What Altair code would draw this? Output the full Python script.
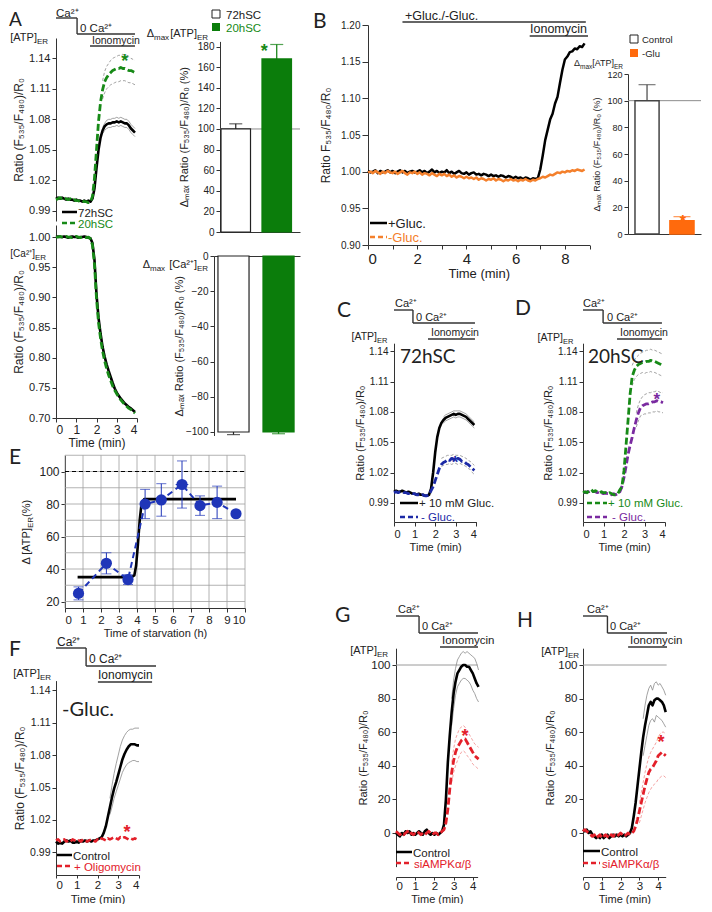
import altair as alt
import pandas as pd

W, H = 696, 896
M = 8
FONT = "Liberation Sans"
BIG = "Lato"
INK = "#222222"
AX = "#333333"
GREEN = "#178a17"
GREEN_BAR = "#0b7d0b"
ORANGE = "#f4802c"
ORANGE_BAR = "#ff6a0d"
BLUE = "#1c2aa6"
EBLUE = "#1f35b8"
PURPLE = "#7a2aa0"
RED = "#e3202a"
SEM = "#8a8a8a"
PINK = "#f08a8a"


def T(n, step=0.1):
    return [round(i * step, 1) for i in range(n)]


# ---------------- data ----------------
T40 = T(40)
T41 = T(41)
T44 = T(44)
T45 = T(45)
T89 = T(89)

# A  [ATP]ER  72hSC / 20hSC
atp72 = [1.002, 1.003, 1.002, 1.003, 1.002, 1.001, 1.002, 1.001, 1.001, 1.000,
         1.001, 1.000, 1.000, 0.999, 1.000, 0.999, 1.000, 0.999, 1.002, 1.012,
         1.032, 1.050, 1.062, 1.069, 1.073, 1.075, 1.076, 1.076, 1.077, 1.077,
         1.078, 1.077, 1.078, 1.077, 1.076, 1.076, 1.074, 1.071, 1.069, 1.067]
atp20 = [1.001, 1.002, 1.003, 1.002, 1.003, 1.002, 1.001, 1.002, 1.000, 1.001,
         1.000, 1.000, 0.999, 1.000, 0.999, 0.999, 0.998, 0.999, 1.004, 1.022,
         1.050, 1.078, 1.097, 1.109, 1.117, 1.121, 1.124, 1.126, 1.128, 1.129,
         1.130, 1.130, 1.131, 1.130, 1.130, 1.129, 1.128, 1.128, 1.127, 1.126]
up72 = [1.072, 1.076, 1.079, 1.080, 1.080, 1.081, 1.081, 1.082, 1.081, 1.082, 1.081, 1.080, 1.080, 1.078, 1.075, 1.073, 1.071]
lo72 = [1.066, 1.069, 1.071, 1.072, 1.072, 1.073, 1.073, 1.074, 1.073, 1.074, 1.073, 1.072, 1.072, 1.070, 1.067, 1.065, 1.063]
up20 = [1.118, 1.127, 1.132, 1.135, 1.138, 1.140, 1.141, 1.142, 1.143, 1.143, 1.144, 1.143, 1.143, 1.142, 1.140, 1.139, 1.138]
lo20 = [1.100, 1.106, 1.110, 1.112, 1.114, 1.115, 1.116, 1.117, 1.117, 1.118, 1.118, 1.118, 1.117, 1.116, 1.116, 1.115, 1.114]

# A  [Ca2+]ER
ca72 = [1.000, 1.001, 1.000, 1.000, 1.001, 1.000, 0.999, 1.000, 1.001, 1.000,
        1.000, 0.999, 1.000, 1.000, 1.001, 1.000, 0.999, 0.998, 0.990, 0.962,
        0.905, 0.866, 0.840, 0.818, 0.802, 0.789, 0.778, 0.768, 0.758, 0.749,
        0.742, 0.737, 0.732, 0.728, 0.724, 0.721, 0.718, 0.716, 0.713, 0.710]
ca20 = [1.000, 1.000, 1.001, 1.000, 1.000, 1.001, 1.000, 1.000, 0.999, 1.000,
        1.001, 1.000, 0.999, 1.000, 1.000, 0.999, 1.000, 0.997, 0.987, 0.955,
        0.898, 0.858, 0.832, 0.811, 0.795, 0.782, 0.771, 0.762, 0.753, 0.746,
        0.740, 0.735, 0.730, 0.726, 0.722, 0.719, 0.716, 0.714, 0.711, 0.708]

# A bars
bar_cats_A = ["72hSC", "20hSC"]
atp_bar = [100, 168]
atp_err = [5, 14]
ca_bar = [-100, -100]
ca_err = [1.5, 1.0]

# B
b_glu = [1.001, 0.999, 1.000, 1.002, 0.998, 1.001, 0.999, 1.000, 1.002, 0.999,
         1.001, 0.998, 1.000, 1.002, 0.999, 1.001, 0.998, 1.000, 1.001, 0.999,
         1.000, 1.002, 0.999, 1.001, 0.998, 1.000, 1.003, 0.999, 1.001, 0.998,
         1.000, 0.999, 1.002, 0.998, 1.000, 0.997, 0.999, 1.001, 0.998, 0.997,
         0.999, 0.996, 0.998, 0.999, 0.996, 0.997, 0.995, 0.997, 0.996, 0.994,
         0.996, 0.994, 0.995, 0.993, 0.995, 0.994, 0.992, 0.994, 0.993, 0.991,
         0.993, 0.991, 0.992, 0.990, 0.992, 0.991, 0.989, 0.991, 0.990, 0.991,
         1.003, 1.022, 1.043, 1.057, 1.071, 1.079, 1.093, 1.102, 1.121, 1.139,
         1.153, 1.157, 1.163, 1.164, 1.168, 1.167, 1.171, 1.170, 1.175]
b_noglu = [0.999, 1.000, 0.998, 1.001, 0.999, 0.997, 1.000, 0.998, 1.001, 0.999,
           0.998, 1.000, 0.997, 0.999, 1.001, 0.998, 0.996, 0.999, 0.998, 1.000,
           0.997, 0.999, 0.996, 0.998, 0.997, 0.995, 0.998, 0.996, 0.994, 0.997,
           0.995, 0.997, 0.994, 0.996, 0.993, 0.995, 0.992, 0.994, 0.993, 0.991,
           0.993, 0.991, 0.992, 0.990, 0.992, 0.989, 0.991, 0.990, 0.988, 0.990,
           0.989, 0.991, 0.988, 0.990, 0.989, 0.987, 0.989, 0.988, 0.990, 0.988,
           0.989, 0.987, 0.989, 0.988, 0.990, 0.988, 0.987, 0.989, 0.988, 0.990,
           0.991, 0.993, 0.992, 0.994, 0.996, 0.995, 0.997, 0.999, 0.998, 1.000,
           0.999, 1.001, 1.000, 1.002, 1.001, 1.003, 1.002, 1.001, 1.003]
bar_cats_B = ["Control", "-Glu"]
b_bar = [100, 10]
b_err = [12, 3]

# C
c_glu = [1.001, 1.002, 1.001, 1.001, 1.002, 1.001, 1.000, 1.001, 1.000, 0.999,
         0.999, 0.998, 0.999, 0.998, 0.998, 0.997, 0.997, 0.998, 1.004, 1.020,
         1.040, 1.055, 1.064, 1.069, 1.072, 1.074, 1.075, 1.076, 1.077, 1.078,
         1.077, 1.078, 1.078, 1.077, 1.076, 1.075, 1.073, 1.071, 1.069, 1.067]
c_up = [1.075, 1.077, 1.078, 1.079, 1.080, 1.081, 1.081, 1.081, 1.081, 1.080, 1.079, 1.078, 1.076, 1.074, 1.072, 1.070]
c_lo = [1.069, 1.071, 1.072, 1.073, 1.074, 1.075, 1.074, 1.075, 1.075, 1.074, 1.073, 1.072, 1.070, 1.068, 1.066, 1.064]
c_noglu = [1.000, 1.001, 1.000, 1.001, 1.001, 1.000, 1.000, 0.999, 1.000, 0.999,
           0.999, 0.998, 0.998, 0.997, 0.998, 0.997, 0.997, 0.998, 1.002, 1.006,
           1.012, 1.018, 1.024, 1.028, 1.030, 1.031, 1.033, 1.032, 1.034, 1.033,
           1.032, 1.034, 1.033, 1.031, 1.031, 1.029, 1.028, 1.026, 1.024, 1.022]
c_nup = [1.034, 1.035, 1.036, 1.037, 1.037, 1.037, 1.038, 1.037, 1.037, 1.037, 1.036, 1.035, 1.034, 1.032, 1.031, 1.029, 1.027]
c_nlo = [1.026, 1.027, 1.028, 1.028, 1.029, 1.028, 1.029, 1.029, 1.028, 1.029, 1.028, 1.027, 1.026, 1.024, 1.023, 1.020, 1.018]

# D
d_glu = [1.000, 1.001, 1.000, 1.002, 1.003, 1.001, 1.002, 1.001, 1.000, 1.001,
         1.000, 1.000, 0.999, 1.000, 0.999, 0.998, 0.998, 0.999, 1.003, 1.006,
         1.022, 1.047, 1.072, 1.098, 1.115, 1.121, 1.125, 1.127, 1.128, 1.129,
         1.129, 1.130, 1.130, 1.131, 1.130, 1.130, 1.129, 1.128, 1.127, 1.126]
d_gup = [1.126, 1.131, 1.134, 1.136, 1.138, 1.139, 1.140, 1.141, 1.141, 1.142, 1.141, 1.141, 1.140, 1.139, 1.138, 1.137]
d_glo = [1.106, 1.112, 1.115, 1.117, 1.118, 1.119, 1.118, 1.119, 1.119, 1.120, 1.119, 1.119, 1.118, 1.117, 1.116, 1.115]
d_noglu = [1.000, 1.000, 1.001, 1.001, 1.002, 1.001, 1.001, 1.000, 1.001, 1.000,
           0.999, 1.000, 0.999, 0.999, 0.998, 0.999, 0.998, 0.999, 1.001, 1.006,
           1.015, 1.026, 1.038, 1.047, 1.055, 1.064, 1.072, 1.079, 1.084, 1.086,
           1.087, 1.088, 1.088, 1.089, 1.090, 1.090, 1.091, 1.090, 1.090, 1.089]
d_nup = [1.079, 1.087, 1.092, 1.095, 1.097, 1.098, 1.099, 1.099, 1.100, 1.100, 1.101, 1.100, 1.099, 1.099]
d_nlo = [1.065, 1.071, 1.076, 1.077, 1.078, 1.078, 1.079, 1.079, 1.080, 1.080, 1.081, 1.080, 1.080, 1.079]

# E
e_h = [0.75, 2.3, 3.5, 4.45, 5.35, 6.5, 7.5, 8.45, 9.5]
e_mean = [25, 43.5, 33.5, 80, 82.5, 92, 79, 81, 74]
e_err = [4, 6.5, 3, 9, 10, 14.5, 6, 10, 0]
e_xerr_h = [6.5]
e_xerr_v = [92]
e_xerr = [0.35]
e_fit_h = [0.7, 3.7, 3.85, 3.95, 4.05, 4.15, 4.25, 4.4, 9.5]
e_fit_v = [35, 35, 36, 42, 55, 70, 80, 83, 83]
e_grid_h = [0, 1, 2, 3, 4, 5, 6, 7, 8, 9, 10]
e_grid_v = [20, 30, 40, 50, 60, 70, 80, 90, 100, 110]

# F
f_ctrl = [1.000, 0.998, 0.999, 0.998, 1.000, 1.001, 1.000, 1.001, 0.999, 0.999,
          1.000, 0.999, 1.001, 1.000, 1.001, 1.000, 1.001, 1.000, 1.001, 1.001,
          1.002, 1.003, 1.004, 1.008, 1.014, 1.023, 1.032, 1.041, 1.049, 1.055,
          1.062, 1.069, 1.076, 1.081, 1.085, 1.088, 1.090, 1.090, 1.090, 1.089,
          1.089]
f_up = [1.040, 1.052, 1.063, 1.072, 1.080, 1.088, 1.094, 1.098, 1.101, 1.103, 1.104, 1.104, 1.105, 1.105, 1.105]
f_lo = [1.025, 1.032, 1.040, 1.046, 1.052, 1.058, 1.064, 1.068, 1.071, 1.073, 1.074, 1.075, 1.075, 1.074, 1.074]
f_oligo = [1.001, 1.002, 1.000, 1.001, 1.002, 1.000, 1.001, 1.000, 1.002, 1.001,
           1.000, 1.001, 1.000, 1.002, 1.001, 1.000, 1.001, 1.002, 1.001, 1.000,
           1.002, 1.001, 1.003, 1.002, 1.001, 1.003, 1.002, 1.003, 1.004, 1.003,
           1.002, 1.004, 1.003, 1.004, 1.003, 1.002, 1.003, 1.002, 1.003, 1.002,
           1.003]

# G
g_ctrl = [0, -1, -2, 0, -1, 1, 0, 1, -1, 0,
          -1, 0, 1, 0, -1, 1, 2, 0, -1, 0,
          -1, 0, -1, 0, 1, 5, 20, 42, 58, 72,
          83, 90, 95, 97, 99, 100, 100, 99, 99, 97,
          95, 92, 89, 87]
g_up = [80, 91, 98, 103, 105, 107, 108, 107, 108, 107, 106, 105, 104, 101, 97]
g_lo = [64, 74, 82, 87, 89, 91, 92, 92, 91, 90, 88, 85, 83, 80, 78]
g_si = [1, 0, -1, 0, -1, 0, 1, -1, 0, -1,
        0, 1, 0, -1, 0, -1, 0, 1, 0, -1,
        0, 0, -1, 0, 1, 2, 6, 14, 26, 36,
        43, 48, 51, 53, 55, 56, 56, 54, 52, 50,
        48, 46, 45, 44]
g_sup = [42, 50, 56, 59, 62, 63, 64, 63, 61, 59, 57, 55, 53, 52, 51]
g_slo = [30, 36, 40, 43, 46, 48, 49, 48, 46, 45, 43, 41, 40, 39, 38]

# H
h_ctrl = [2, 1, 2, 0, 1, -1, -2, -3, -2, -3,
          -1, -3, -2, -1, -3, -2, -1, -2, -1, -2,
          -1, -2, -1, -2, -1, 0, 3, 10, 18, 28,
          38, 48, 57, 64, 70, 76, 78, 76, 79, 80,
          80, 79, 78, 76, 72]
h_up = [68, 76, 82, 86, 88, 85, 89, 90, 88, 89, 87, 85, 82]
h_lo = [46, 52, 58, 64, 67, 68, 66, 70, 69, 68, 67, 65, 63]
h_si = [1, 2, 1, 0, -1, -2, -1, -3, -2, -1,
        -3, -2, -1, -2, -3, -1, -2, -1, -2, -1,
        0, -1, -2, -1, 0, -1, 0, 1, 4, 8,
        13, 18, 23, 28, 32, 36, 38, 39, 41, 43,
        46, 47, 48, 47, 46]
h_sup = [18, 24, 30, 36, 41, 45, 48, 50, 52, 54, 57, 59, 60, 60, 59]
h_slo = [6, 10, 14, 18, 21, 24, 26, 28, 29, 30, 32, 33, 34, 34, 33]

# tick labels
tick_atp = [0.99, 1.02, 1.05, 1.08, 1.11, 1.14]
tick_ca = [0.70, 0.75, 0.80, 0.85, 0.90, 0.95, 1.00]
tick_b = [0.90, 0.95, 1.00, 1.05, 1.10, 1.15, 1.20]
tick_min4 = [0, 1, 2, 3, 4]
tick_min9 = [0, 1, 2, 3, 4, 5, 6, 7, 8, 9]
tick_barA = [0, 20, 40, 60, 80, 100, 120, 140, 160, 180]
tick_barA2 = [-100, -80, -60, -40, -20, 0]
tick_barB = [0, 20, 40, 60, 80, 100, 120]
tick_pct = [0, 20, 40, 60, 80, 100]
tick_E_y = [20, 40, 60, 80, 100]
tick_E_x = [0, 1, 2, 3, 4, 5, 6, 7, 8, 9, 10]

RATIO = "Ratio (F₅₃₅/F₄₈₀)/R₀"
DRATIO = "Δₘₐₓ Ratio (F₅₃₅/F₄₈₀)/R₀ (%)"


# ---------------- helpers ----------------
def sc(domain, p0, p1):
    return alt.Scale(domain=domain, range=[p0 - M, p1 - M], nice=False, zero=False)


def band(domain, p0, p1, pi, po, al):
    return alt.Scale(domain=domain, range=[p0 - M, p1 - M], paddingInner=pi,
                     paddingOuter=po, align=al)


def yax(xpos, values, fmt=None, size=10, title=None, tsize=11, tpad=3, tick=4):
    d = dict(orient="left", offset=-(xpos - M), values=values, labelFontSize=size,
             tickSize=tick, grid=False, labelPadding=2, title=title)
    if fmt:
        d["format"] = fmt
    if title:
        d.update(titleFontSize=tsize, titlePadding=tpad)
    return alt.Axis(**d)


def xax(ypos, values, size=11, title=None, tsize=11, tpad=2, tick=4, lpad=2, **kw):
    d = dict(orient="bottom", offset=(ypos - M) - H, values=values, labelFontSize=size,
             tickSize=tick, grid=False, labelPadding=lpad, title=title, format="d")
    if title:
        d.update(titleFontSize=tsize, titlePadding=tpad)
    d.update(kw)
    return alt.Axis(**d)


def series(t, v, xs, ys, color, width=2.5, dash=None, xaxis=None, yaxis=None):
    df = pd.DataFrame({"t": t, "v": v})
    mk = dict(color=color, strokeWidth=width, strokeJoin="round")
    if dash:
        mk["strokeDash"] = dash
    return alt.Chart(df).mark_line(**mk).encode(
        x=alt.X("t:Q", scale=xs, axis=xaxis),
        y=alt.Y("v:Q", scale=ys, axis=yaxis))


def star(t, v, xs, ys, color, size=18, nominal=False):
    df = pd.DataFrame({"t": [t], "v": [v]})
    xt = "t:N" if nominal else "t:Q"
    return alt.Chart(df).mark_text(text="*", fontSize=size, color=color, font=FONT,
                                   fontWeight="bold", dy=0.57 * size).encode(
        x=alt.X(xt, scale=xs, axis=None), y=alt.Y("v:Q", scale=ys, axis=None))


def txt(s, x, y, size=11, color=INK, font=FONT, align="left", angle=None, weight=None):
    mk = dict(text=s, fontSize=size, color=color, font=font, align=align, baseline="alphabetic")
    if angle is not None:
        mk["angle"] = angle
    if weight:
        mk["fontWeight"] = weight
    return alt.Chart().mark_text(**mk).encode(x=alt.value(x - M), y=alt.value(y - M))


def hline(x0, x1, y, color=INK, width=1.3, dash=None):
    mk = dict(color=color, strokeWidth=width)
    if dash:
        mk["strokeDash"] = dash
    return alt.Chart().mark_rule(**mk).encode(
        x=alt.value(x0 - M), x2=alt.value(x1 - M), y=alt.value(y - M))


def box(x0, x1, y0, y1, fill, stroke=None):
    mk = dict(fill=fill, strokeWidth=1)
    if stroke:
        mk["stroke"] = stroke
    return alt.Chart().mark_rect(**mk).encode(
        x=alt.value(x0 - M), x2=alt.value(x1 - M), y=alt.value(y0 - M), y2=alt.value(y1 - M))


def seg(xs, a, b, ypx, color="#333", width=1.4):
    df = pd.DataFrame({"a": [a], "b": [b]})
    return alt.Chart(df).mark_rule(color=color, strokeWidth=width).encode(
        x=alt.X("a:Q", scale=xs, axis=None), x2="b:Q", y=alt.value(ypx - M))


def vseg(xs, a, y0, y1, color="#333", width=1.4):
    df = pd.DataFrame({"a": [a]})
    return alt.Chart(df).mark_rule(color=color, strokeWidth=width).encode(
        x=alt.X("a:Q", scale=xs, axis=None), y=alt.value(y0 - M), y2=alt.value(y1 - M))


def protocol(xs, t_sw, t_end, t_i0, t_i1, y_top, y_bot, y_ion):
    return [seg(xs, 0, t_sw, y_top), vseg(xs, t_sw, y_top, y_bot),
            seg(xs, t_sw, t_end, y_bot), seg(xs, t_i0, t_i1, y_ion)]


def proto_text(xc, yc, x0, y0, xi, yi, fs=11, fsi=11):
    return [txt("Ca²⁺", xc, yc, fs), txt("0 Ca²⁺", x0, y0, fs), txt("Ionomycin", xi, yi, fsi)]


def bar_set(cats, vals, errs, fills, strokes, xs, ys, xaxis, yaxis, cap=13, sign=1, sw=1.2):
    out = []
    for i, c in enumerate(cats):
        df = pd.DataFrame({"c": [c], "v": [vals[i]], "e": [vals[i] + sign * errs[i]]})
        out.append(alt.Chart(df).mark_bar(fill=fills[i], stroke=strokes[i], strokeWidth=sw).encode(
            x=alt.X("c:N", scale=xs, axis=xaxis if i == 0 else None),
            y=alt.Y("v:Q", scale=ys, axis=yaxis if i == 0 else None),
            y2=alt.datum(0)))
        out.append(alt.Chart(df).mark_rule(color=strokes[i], strokeWidth=1.2).encode(
            x=alt.X("c:N", scale=xs, axis=None), y=alt.Y("v:Q", scale=ys, axis=None), y2="e:Q"))
        out.append(alt.Chart(df).mark_tick(color=strokes[i], size=cap, thickness=1.2).encode(
            x=alt.X("c:N", scale=xs, axis=None), y=alt.Y("e:Q", scale=ys, axis=None)))
    return out


def ref_rule(value, x0, x1, ys, color="#8c8c8c"):
    df = pd.DataFrame({"v": [value]})
    return alt.Chart(df).mark_rule(color=color, strokeWidth=1).encode(
        y=alt.Y("v:Q", scale=ys, axis=None), x=alt.value(x0 - M), x2=alt.value(x1 - M))


def data_rule(t0, t1, value, xs, ys, color="#8c8c8c", width=1, dash=None):
    df = pd.DataFrame({"a": [t0], "b": [t1], "v": [value]})
    mk = dict(color=color, strokeWidth=width)
    if dash:
        mk["strokeDash"] = dash
    return alt.Chart(df).mark_rule(**mk).encode(
        x=alt.X("a:Q", scale=xs, axis=None), x2="b:Q", y=alt.Y("v:Q", scale=ys, axis=None))


units = []
notes = []

# ---------------- Panel A (lines) ----------------
xsA = sc([0, 4], 56, 137)
ysA1 = sc([0.98, 1.16], 221, 38)
ysA2 = sc([0.70, 1.02], 418, 225)
units += [
    series(T40[23:], up72, xsA, ysA1, SEM, 0.8,
           yaxis=yax(56, tick_atp, ".2f", 11, RATIO, 12, 3)),
    series(T40[23:], lo72, xsA, ysA1, SEM, 0.8),
    series(T40[23:], up20, xsA, ysA1, SEM, 0.8, dash=[3, 2]),
    series(T40[23:], lo20, xsA, ysA1, SEM, 0.8, dash=[3, 2]),
    series(T40, atp72, xsA, ysA1, "black", 2.6),
    series(T40, atp20, xsA, ysA1, GREEN, 2.8, dash=[7, 3]),
    star(3.4, 1.146, xsA, ysA1, GREEN),
] + protocol(xsA, 1.04, 3.9, 1.68, 3.9, 18, 34, 46)
notes += proto_text(56, 17, 80, 31.5, 92, 43.5, 11.5, 10.5)

units += [
    series(T40, ca72, xsA, ysA2, "black", 2.6,
           xaxis=xax(418, tick_min4, 12, "Time (min)", 12, 2),
           yaxis=yax(56, tick_ca, ".2f", 11, RATIO, 12, 3)),
    series(T40, ca20, xsA, ysA2, GREEN, 2.8, dash=[7, 3]),
]

notes += [hline(62, 77, 212, "black", 2.5), txt("72hSC", 78, 216.5, 11.5),
          hline(62, 77, 223, GREEN, 2.5, [5, 3]), txt("20hSC", 78, 228, 11.5, GREEN)]
notes += [txt("[ATP]", 37, 41, 11, align="right"), txt("ER", 37, 44, 8),
          txt("[Ca²⁺]", 35, 257, 10, align="right"), txt("ER", 35, 260, 8)]

# ---------------- Panel A (bars) ----------------
xbA1 = band(bar_cats_A, 220, 300, 0.28, 0.116, 0.105)
ybA1 = sc([0, 185], 232, 41.4)
units += [ref_rule(100, 220, 300, ybA1)] + bar_set(
    bar_cats_A, atp_bar, atp_err, ["white", GREEN_BAR], ["#222", GREEN_BAR], xbA1, ybA1,
    alt.Axis(orient="bottom", offset=(232 - M) - H, labels=False, ticks=False, title=None, grid=False),
    yax(220, tick_barA, "d", 10, DRATIO, 11, 8), cap=13) + [
    star("20hSC", 185, xbA1, ybA1, GREEN, 18, nominal=True)]

xbA2 = band(bar_cats_A, 214, 300, 0.31, 0.11, 0.4)
ybA2 = sc([-102, 0], 435.5, 256)
units += bar_set(
    bar_cats_A, ca_bar, ca_err, ["white", GREEN_BAR], ["#222", GREEN_BAR], xbA2, ybA2,
    alt.Axis(orient="top", offset=-(256 - M), labels=False, ticks=False, title=None, grid=False),
    yax(214, tick_barA2, "d", 10, DRATIO, 11, 1), cap=13, sign=-1)

notes += [box(212, 220, 10, 18, "white", "#222"), txt("72hSC", 226, 18.5, 11.5),
          box(212, 220, 23, 31, GREEN_BAR), txt("20hSC", 226, 31.5, 11.5, GREEN)]
notes += [txt("Δ", 154, 37, 11, align="right"), txt("max", 154, 40, 8),
          txt("[ATP]", 197, 37, 11, align="right"), txt("ER", 197, 40, 8)]
notes += [txt("Δ", 150, 268, 11, align="right"), txt("max", 150, 271, 8),
          txt("[Ca²⁺]", 197, 268, 11, align="right"), txt("ER", 197, 271, 8)]

# ---------------- Panel B ----------------
xsB = sc([0, 9], 368, 589.5)
ysB = sc([0.90, 1.20], 245, 25)
units += [
    series(T89, b_glu, xsB, ysB, "black", 2.5,
           xaxis=xax(245, tick_min9, 15, "Time (min)", 13, 1,
                     labelExpr="datum.value % 2 == 0 ? datum.label : ''"),
           yaxis=yax(368, tick_b, ".2f", 10, "Ratio F₅₃₅/F₄₈₀/R₀", 12, 8, tick=6)),
    series(T89, b_noglu, xsB, ysB, ORANGE, 2.5),
    seg(xsB, 1.4, 8.85, 22), seg(xsB, 6.57, 8.94, 36),
]
notes += [txt("+Gluc./-Gluc.", 405, 20, 12.5), txt("Ionomycin", 530, 33, 12.5)]
notes += [hline(370, 387, 223, "black", 2.5), txt("+Gluc.", 388, 227.5, 13),
          hline(370, 387, 237, ORANGE, 2.5, [5, 3]), txt("-Gluc.", 388, 242, 13, ORANGE)]

xbB = band(bar_cats_B, 628, 701, 0.31, 0.2, 0.5)
ybB = sc([0, 120], 234, 74)
units += [ref_rule(100, 628, 701, ybB)] + bar_set(
    bar_cats_B, b_bar, b_err, ["white", ORANGE_BAR], ["#444", ORANGE_BAR], xbB, ybB,
    alt.Axis(orient="bottom", offset=(234 - M) - H, labels=False, ticks=False, title=None, grid=False),
    yax(628, tick_barB, "d", 9, DRATIO, 9, 5), cap=17, sw=1.5) + [
    star("-Glu", 16, xbB, ybB, ORANGE_BAR, 16, nominal=True)]
notes += [box(630, 638, 35, 43, "white", "#222"), txt("Control", 642, 43, 9.5),
          box(630, 638, 49, 57, ORANGE_BAR), txt("-Glu", 642, 57, 9.5)]
notes += [txt("Δ", 580, 66, 9, align="right"), txt("max", 580, 68.5, 6.5),
          txt("[ATP]", 614, 66, 9, align="right"), txt("ER", 614, 68.5, 6.5)]

# ---------------- Panel C ----------------
xsC = sc([0, 4], 394, 476.4)
ysC = sc([0.971, 1.148], 522, 343.2)
units += [
    series(T40[24:], c_up, xsC, ysC, SEM, 0.8,
           xaxis=xax(522, tick_min4, 11, "Time (min)", 11, 2),
           yaxis=yax(394, tick_atp, ".2f", 10, RATIO, 11, 3)),
    series(T40[24:], c_lo, xsC, ysC, SEM, 0.8),
    series(T40[23:], c_nup, xsC, ysC, SEM, 0.8, dash=[3, 2]),
    series(T40[23:], c_nlo, xsC, ysC, SEM, 0.8, dash=[3, 2]),
    series(T40, c_glu, xsC, ysC, "black", 2.6),
    series(T40, c_noglu, xsC, ysC, BLUE, 2.8, dash=[7, 3]),
    star(2.96, 1.039, xsC, ysC, BLUE, 17),
] + protocol(xsC, 0.92, 3.93, 1.65, 3.93, 310, 323, 339)
notes += proto_text(395, 307, 416, 320.5, 431, 335.5, 11, 10.5)
notes += [txt("72hSC", 400, 363, 19, font=BIG),
          txt("[ATP]", 377, 340, 10.5, align="right"), txt("ER", 377, 343, 7.5)]
notes += [hline(400, 418, 503, "black", 2.5), txt("+ 10 mM Gluc.", 419, 507, 11.5),
          hline(400, 418, 517, BLUE, 2.5, [5, 3]), txt("- Gluc.", 421, 521, 11.5, BLUE)]

# ---------------- Panel D ----------------
xsD = sc([0, 4], 583, 665)
ysD = sc([0.971, 1.148], 522, 343.2)
units += [
    series(T40[24:], d_gup, xsD, ysD, SEM, 0.8, dash=[3, 2],
           xaxis=xax(522, tick_min4, 11, "Time (min)", 11, 2),
           yaxis=yax(583, tick_atp, ".2f", 10, RATIO, 11, 4)),
    series(T40[24:], d_glo, xsD, ysD, SEM, 0.8, dash=[3, 2]),
    series(T40[26:], d_nup, xsD, ysD, SEM, 0.8, dash=[3, 2]),
    series(T40[26:], d_nlo, xsD, ysD, SEM, 0.8, dash=[3, 2]),
    series(T40, d_noglu, xsD, ysD, PURPLE, 2.8, dash=[7, 3]),
    series(T40, d_glu, xsD, ysD, GREEN, 2.8, dash=[7, 3]),
    star(3.6, 1.101, xsD, ysD, PURPLE, 17),
] + protocol(xsD, 0.98, 3.85, 1.66, 3.85, 310, 323, 339)
notes += proto_text(583, 307, 607, 320.5, 620, 335.5, 11, 10.5)
notes += [txt("20hSC", 588, 363, 19, font=BIG),
          txt("[ATP]", 563, 341, 10.5, align="right"), txt("ER", 563, 344, 7.5)]
notes += [hline(587, 607, 503, GREEN, 2.5, [5, 3]), txt("+ 10 mM Gluc.", 608, 507, 11.5, GREEN),
          hline(587, 607, 517, PURPLE, 2.5, [5, 3]), txt("- Gluc.", 612, 521, 11.5, PURPLE)]

# ---------------- Panel E ----------------
xsE = sc([0, 10], 65, 245)
ysE = sc([16, 110], 608, 455.25)
gv = pd.DataFrame({"h": e_grid_h})
gh = pd.DataFrame({"v": e_grid_v})
ed = pd.DataFrame({"h": e_h, "m": e_mean,
                   "lo": [m - e for m, e in zip(e_mean, e_err)],
                   "hi": [m + e for m, e in zip(e_mean, e_err)]})
exd = pd.DataFrame({"m": e_xerr_v, "a": [h - e for h, e in zip(e_xerr_h, e_xerr)],
                    "b": [h + e for h, e in zip(e_xerr_h, e_xerr)]})
units += [
    alt.Chart(gv).mark_rule(color="#a0a0a0", strokeWidth=0.8).encode(
        x=alt.X("h:Q", scale=xsE, axis=xax(608, tick_E_x, 11.5, "Time of starvation (h)", 11, 2)),
        y=alt.Y(datum=16, scale=ysE, axis=None), y2=alt.Y2(datum=110)),
    alt.Chart(gh).mark_rule(color="#a0a0a0", strokeWidth=0.8).encode(
        y=alt.Y("v:Q", scale=ysE, axis=yax(65, tick_E_y, "d", 12)),
        x=alt.X(datum=0, scale=xsE, axis=None), x2=alt.X2(datum=10)),
    data_rule(0, 10, 100, xsE, ysE, "black", 1.2, [4, 3]),
    series(e_fit_h, e_fit_v, xsE, ysE, "black", 2.6),
    series(e_h, e_mean, xsE, ysE, EBLUE, 2, dash=[6, 4]),
    alt.Chart(ed).mark_rule(color=EBLUE, strokeWidth=1).encode(
        x=alt.X("h:Q", scale=xsE, axis=None), y=alt.Y("lo:Q", scale=ysE, axis=None), y2="hi:Q"),
    alt.Chart(ed).mark_tick(color=EBLUE, size=10, thickness=1, orient="horizontal").encode(
        x=alt.X("h:Q", scale=xsE, axis=None), y=alt.Y("lo:Q", scale=ysE, axis=None)),
    alt.Chart(ed).mark_tick(color=EBLUE, size=10, thickness=1, orient="horizontal").encode(
        x=alt.X("h:Q", scale=xsE, axis=None), y=alt.Y("hi:Q", scale=ysE, axis=None)),
    alt.Chart(exd).mark_rule(color=EBLUE, strokeWidth=1).encode(
        x=alt.X("a:Q", scale=xsE, axis=None), x2="b:Q", y=alt.Y("m:Q", scale=ysE, axis=None)),
    alt.Chart(ed).mark_circle(color=EBLUE, size=125, opacity=1).encode(
        x=alt.X("h:Q", scale=xsE, axis=None), y=alt.Y("m:Q", scale=ysE, axis=None)),
]
notes += [txt("Δ [ATP]", 30, 528, 11, align="right", angle=270),
          txt("ER", 33, 528, 8, align="left", angle=270),
          txt(" (%)", 30, 517, 11, align="left", angle=270)]

# ---------------- Panel F ----------------
xsF = sc([0, 4], 56, 139)
ysF = sc([0.969, 1.149], 875, 680.6)
units += [
    series(T41[26:], f_up, xsF, ysF, SEM, 0.8,
           xaxis=xax(875, tick_min4, 11.5, "Time (min)", 11.5, 0, tick=3, lpad=1,
                     titleY=27, titleBaseline="alphabetic"),
           yaxis=yax(56, tick_atp, ".2f", 10.5, RATIO, 12, 3)),
    series(T41[26:], f_lo, xsF, ysF, SEM, 0.8),
    series(T41, f_ctrl, xsF, ysF, "black", 2.6),
    series(T41, f_oligo, xsF, ysF, RED, 2.6, dash=[6, 3]),
    star(3.42, 1.017, xsF, ysF, RED, 18),
] + protocol(xsF, 1.45, 4.82, 2.02, 4.63, 648, 666, 682)
notes += proto_text(57, 646, 89, 663, 98, 679, 12, 12)
notes += [txt("-Gluc.", 62, 716, 20, font=BIG),
          txt("[ATP]", 40, 677, 11, align="right"), txt("ER", 40, 680, 8)]
notes += [hline(57, 72, 855, "black", 2.5), txt("Control", 73, 859.5, 11.5),
          hline(57, 72, 866, RED, 2.5, [5, 3]), txt("+ Oligomycin", 74, 870.5, 11.5, RED)]

# ---------------- Panel G ----------------
xsG = sc([0, 4.25], 396, 477.6)
ysG = sc([-20, 110], 866.6, 648.2)
units += [
    data_rule(0, 4.25, 100, xsG, ysG, "#9a9a9a", 1),
    series(T44[29:], g_up, xsG, ysG, SEM, 0.8,
           xaxis=xax(877, tick_min4, 11.5, "Time (min)", 11, 0, tick=3, lpad=0,
                     titleY=25.5, titleBaseline="alphabetic"),
           yaxis=yax(396, tick_pct, "d", 11.5, RATIO, 11, 2.5)),
    series(T44[29:], g_lo, xsG, ysG, SEM, 0.8),
    series(T44[29:], g_sup, xsG, ysG, PINK, 0.8, dash=[3, 2]),
    series(T44[29:], g_slo, xsG, ysG, PINK, 0.8, dash=[3, 2]),
    series(T44, g_ctrl, xsG, ysG, "black", 2.6),
    series(T44, g_si, xsG, ysG, RED, 2.8, dash=[7, 3]),
    star(3.6, 63, xsG, ysG, RED, 18),
] + protocol(xsG, 1.2, 4.27, 2.29, 4.27, 616, 633, 647)
notes += proto_text(398, 613, 422, 630, 442, 644, 11, 11.5)
notes += [txt("[ATP]", 377, 654, 11, align="right"), txt("ER", 377, 657, 8)]
notes += [hline(396, 412, 852, "black", 2.5), txt("Control", 413, 856.5, 11.5),
          hline(396, 412, 863, RED, 2.5, [5, 3]), txt("siAMPKα/β", 414, 867.5, 11.5, RED)]

# ---------------- Panel H ----------------
xsH = sc([0, 4.4], 583, 665.7)
ysH = sc([-20, 110], 866.6, 648.2)
units += [
    data_rule(0, 4.45, 100, xsH, ysH, "#9a9a9a", 1),
    series(T45[32:], h_up, xsH, ysH, SEM, 0.8,
           xaxis=xax(877, tick_min4, 11.5, "Time (min)", 11, 0, tick=3, lpad=0,
                     titleY=25.5, titleBaseline="alphabetic"),
           yaxis=yax(583, tick_pct, "d", 11.5, RATIO, 11, 2.5)),
    series(T45[32:], h_lo, xsH, ysH, SEM, 0.8),
    series(T45[30:], h_sup, xsH, ysH, PINK, 0.8, dash=[3, 2]),
    series(T45[30:], h_slo, xsH, ysH, PINK, 0.8, dash=[3, 2]),
    series(T45, h_ctrl, xsH, ysH, "black", 2.6),
    series(T45, h_si, xsH, ysH, RED, 2.8, dash=[7, 3]),
    star(4.15, 59.5, xsH, ysH, RED, 18),
] + protocol(xsH, 1.3, 4.47, 2.4, 4.47, 616, 633, 647)
notes += proto_text(587, 613, 610, 630, 630, 644, 11, 11.5)
notes += [txt("[ATP]", 568, 655, 11, align="right"), txt("ER", 568, 658, 8)]
notes += [hline(583, 600, 851, "black", 2.5), txt("Control", 601, 855.5, 11.5),
          hline(583, 600, 863, RED, 2.5, [5, 3]), txt("siAMPKα/β", 602, 867.5, 11.5, RED)]

# ---------------- panel letters ----------------
for s, x, y, fs in [("A", 9, 26, 19), ("B", 313, 28, 21), ("C", 337, 317, 21), ("D", 515, 315, 21),
                    ("E", 9, 464, 21), ("F", 9, 656, 21), ("G", 335, 622, 21), ("H", 517, 627, 21)]:
    notes.append(txt(s, x, y, fs, INK, BIG))

chart = alt.layer(*units, *notes, data=pd.DataFrame({"d": [0]})).resolve_scale(
    x="independent", y="independent"
).properties(
    width=W, height=H, padding=0, autosize=alt.AutoSizeParams(type="none")
).configure_view(stroke=None).configure_axis(
    labelFont=FONT, titleFont=FONT, titleFontWeight="normal", labelColor=INK,
    titleColor=INK, domainColor=AX, tickColor=AX, domainWidth=1, tickWidth=1
)

chart.save("out.html", embed_options={"renderer": "svg", "actions": False})
